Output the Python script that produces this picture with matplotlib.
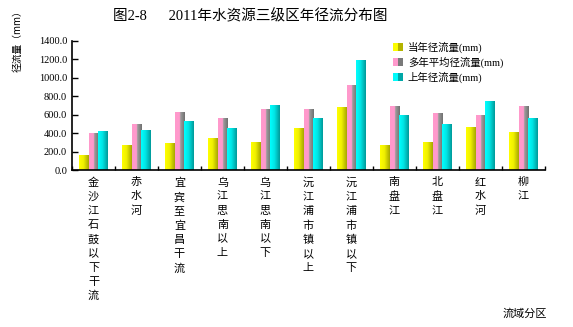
import matplotlib
matplotlib.use('Agg')
import matplotlib.pyplot as plt
import numpy as np
from matplotlib.colors import LinearSegmentedColormap
from matplotlib.patches import Patch
from matplotlib.legend_handler import HandlerTuple

plt.rcParams['font.family'] = ['Liberation Serif', 'Noto Sans CJK SC', 'DejaVu Sans']

categories = ['金沙江石鼓以下干流', '赤水河', '宜宾至宜昌干流', '乌江思南以上', '乌江思南以下',
              '沅江浦市镇以上', '沅江浦市镇以下', '南盘江', '北盘江', '红水河', '柳江']
current_year = [160, 264, 282, 337, 297, 449, 677, 266, 297, 456, 402]
multi_year_avg = [398, 496, 627, 554, 659, 659, 920, 684, 612, 590, 684]
last_year = [416, 423, 529, 452, 698, 554, 1191, 590, 489, 746, 554]
series_names = ['当年径流量(mm)', '多年平均径流量(mm)', '上年径流量(mm)']

# left-to-right shading of each bar, like a lit column
cmaps = [
    LinearSegmentedColormap.from_list('y', [(0, '#FFFF00'), (0.45, '#F0F000'), (1, '#A6A600')]),
    LinearSegmentedColormap.from_list('p', [(0, '#FF99CC'), (0.5, '#FF99CC'), (0.52, '#A0A0A0'), (1, '#707070')]),
    LinearSegmentedColormap.from_list('c', [(0, '#00FFFF'), (0.45, '#00E6E6'), (1, '#009999')]),
]

fig = plt.figure(figsize=(5.73, 3.27), dpi=100)
ax = fig.add_axes([0.1257, 0.48, 0.825, 0.395])

x = np.arange(len(categories))
w = 0.22
grad = np.linspace(0, 1, 64).reshape(1, -1)
for i, vals in enumerate([current_year, multi_year_avg, last_year]):
    bars = ax.bar(x + (i - 1) * w, vals, w, color='none', edgecolor='none')
    for b in bars:
        x0, y0 = b.get_x(), b.get_y()
        ax.imshow(grad, cmap=cmaps[i], aspect='auto', interpolation='bilinear',
                  extent=(x0, x0 + b.get_width(), y0, y0 + b.get_height()), zorder=2)

ax.set_xlim(-0.5, len(categories) - 0.5)
ax.set_ylim(0, 1400)
ax.set_yticks(np.arange(0, 1401, 200))
ax.set_yticklabels(['%.1f' % v for v in np.arange(0, 1401, 200)], fontsize=7.5)
ax.set_xticks(np.arange(len(categories) + 1) - 0.5)
ax.set_xticklabels([])
ax.tick_params(axis='both', direction='in', length=4, width=1)
ax.tick_params(axis='x', length=3)
for s in ['top', 'right']:
    ax.spines[s].set_visible(False)
for s in ['left', 'bottom']:
    ax.spines[s].set_linewidth(1.2)

for xi, name in zip(x, categories):
    ax.text(xi, -80, '\n'.join(name), ha='center', va='top', fontsize=8,
            linespacing=1.5, family=['Noto Sans CJK SC'])

ax.set_ylabel('径流量（mm）', fontsize=7, family=['Noto Sans CJK SC'])
ax.yaxis.set_label_coords(-0.125, 1.02, transform=ax.transAxes)
ax.yaxis.label.set_va('top')

fig.text(0.436, 0.952, '图2-8      2011年水资源三级区年径流分布图', ha='center', va='center', fontsize=10.5)
fig.text(0.955, 0.04, '流域分区', ha='right', va='center', fontsize=8, family=['Noto Sans CJK SC'])

handles = [(Patch(facecolor=cmaps[i](0.1), edgecolor='none'), Patch(facecolor=cmaps[i](0.9), edgecolor='none'))
           for i in range(3)]
ax.legend(handles, series_names, loc='upper left', bbox_to_anchor=(0.66, 1.07), frameon=False,
          handlelength=0.9, handleheight=0.8, handletextpad=0.5, labelspacing=0.35,
          handler_map={tuple: HandlerTuple(ndivide=None, pad=0)},
          prop={'family': ['Liberation Serif', 'Noto Sans CJK SC'], 'size': 7.5})

fig.savefig('out.png', dpi=100)
